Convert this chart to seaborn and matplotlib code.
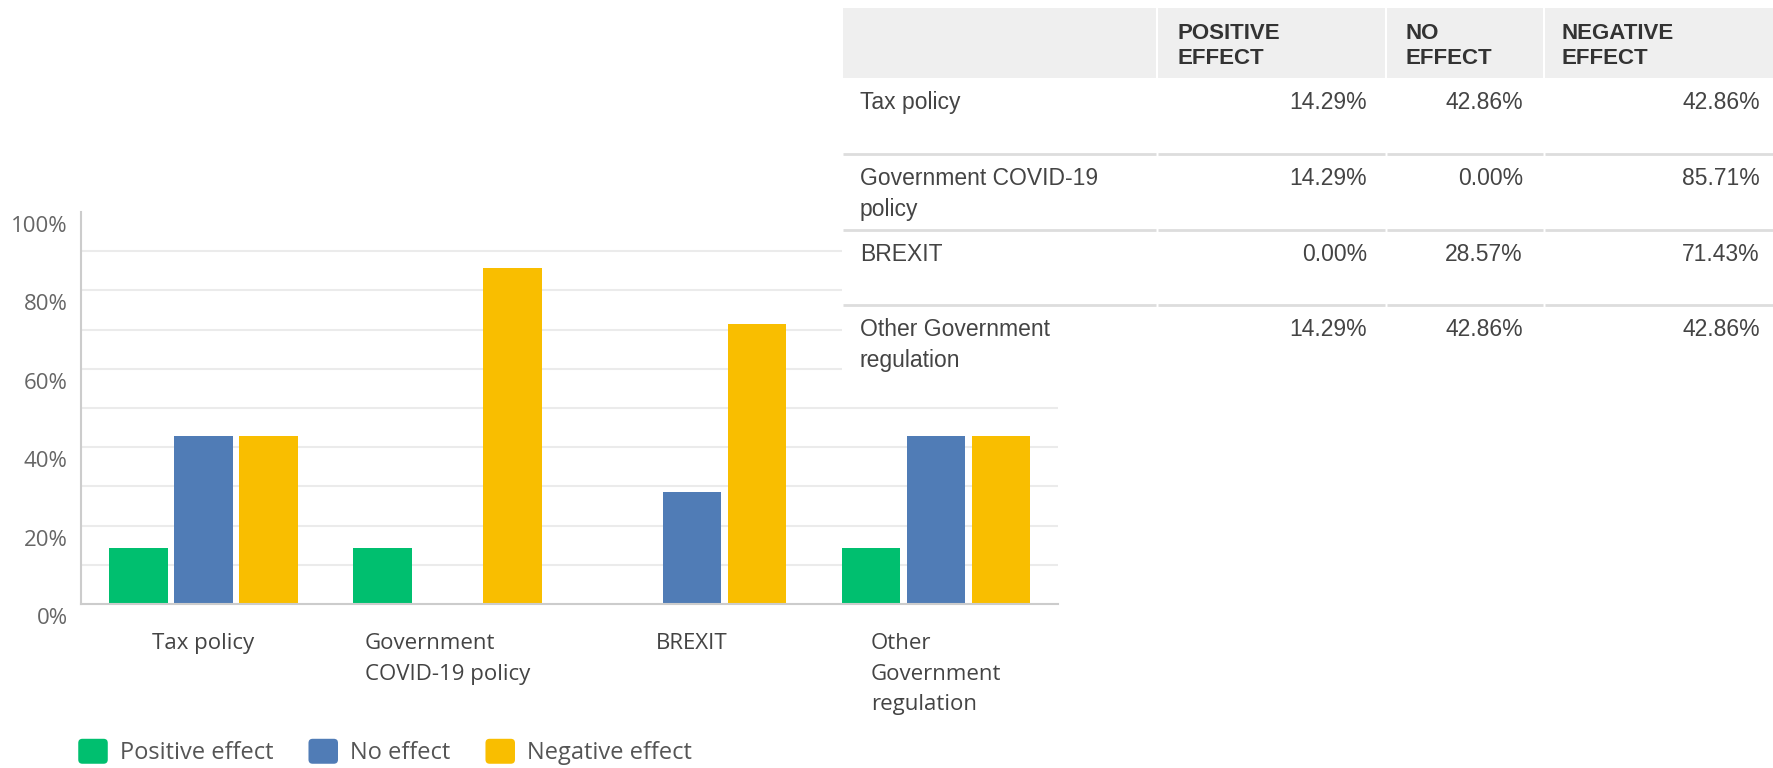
import numpy as np
import pandas as pd
import matplotlib
matplotlib.use('Agg')
import matplotlib.pyplot as plt
import matplotlib.transforms as mtransforms
from matplotlib.patches import Patch, Rectangle, FancyBboxPatch
from matplotlib.legend_handler import HandlerPatch
import seaborn as sns

# data
categories = ['Tax policy', 'Government COVID-19 policy', 'BREXIT', 'Other Government regulation']
chart_labels = ['Tax policy', 'Government\nCOVID-19 policy', 'BREXIT', 'Other\nGovernment\nregulation']
table_labels = ['Tax policy', 'Government COVID-19\npolicy', 'BREXIT', 'Other Government\nregulation']
effects = ['Positive effect', 'No effect', 'Negative effect']
table_headers = ['POSITIVE\nEFFECT', 'NO\nEFFECT', 'NEGATIVE\nEFFECT']
positive = [14.29, 14.29, 0.00, 14.29]
no_effect = [42.86, 0.00, 28.57, 42.86]
negative = [42.86, 85.71, 71.43, 42.86]
colors = ['#00BF6F', '#507CB6', '#F9BE00']

df = pd.DataFrame({
    'category': categories * 3,
    'effect': np.repeat(effects, len(categories)),
    'value': positive + no_effect + negative,
})

sns.set_style('white')
plt.rcParams['font.family'] = ['Open Sans', 'DejaVu Sans']

W, H = 1774, 768
fig = plt.figure(figsize=(W / 100, H / 100), dpi=100)

# bar chart
ax = fig.add_axes([81.5 / W, 164 / H, 976.5 / W, 392 / H])
sns.barplot(data=df, x='category', y='value', hue='effect', palette=colors,
            saturation=1, width=0.8, gap=0.1, linewidth=0, legend=False, ax=ax)
ax.set_ylim(0, 100)
ax.set_xlim(-0.5, len(categories) - 0.5)
for v in range(10, 100, 10):
    ax.axhline(v, color='#ebebeb', lw=1.5, zorder=0)
ax.set_axisbelow(True)
ax.set_yticks(range(0, 101, 20))
ax.set_yticklabels([f'{v}%' for v in range(0, 101, 20)], fontsize=16, color='#666666')
ax.set_xticks(range(len(categories)))
ax.set_xticklabels(chart_labels, fontsize=16, color='#444444', multialignment='left',
                   linespacing=1.6)
ax.tick_params(axis='y', length=0, pad=10)
ax.tick_params(axis='x', length=0, pad=21)
offset = mtransforms.ScaledTranslation(0, -0.12, fig.dpi_scale_trans)
for lab in ax.get_yticklabels():
    lab.set_transform(lab.get_transform() + offset)
ax.set_xlabel('')
ax.set_ylabel('')
for s in ['top', 'right']:
    ax.spines[s].set_visible(False)
for s in ['left', 'bottom']:
    ax.spines[s].set_color('#cccccc')
    ax.spines[s].set_linewidth(1.5)


# legend with rounded squares
class RoundHandler(HandlerPatch):
    def create_artists(self, legend, orig_handle, xdescent, ydescent, width, height,
                       fontsize, trans):
        p = FancyBboxPatch((-xdescent, -ydescent), width, height,
                           boxstyle='round,pad=0,rounding_size=3',
                           facecolor=orig_handle.get_facecolor(), edgecolor='none',
                           transform=trans)
        return [p]


handles = [Patch(facecolor=c, edgecolor='none') for c in colors]
fig.legend(handles, effects, loc='center left', bbox_to_anchor=(57 / W, 16 / H),
           ncol=3, frameon=False, fontsize=17, handlelength=1.25, handleheight=1.25,
           handletextpad=0.5, columnspacing=1.5, labelcolor='#555555',
           handler_map={Patch: RoundHandler()})

# table overlay
x0, x1, y0, y1 = 842, 1774, 8, 381
tax = fig.add_axes([x0 / W, 1 - y1 / H, (x1 - x0) / W, (y1 - y0) / H])
tax.set_xlim(x0, x1)
tax.set_ylim(y1, y0)
tax.axis('off')
tax.add_patch(Rectangle((x0, y0), x1 - x0, y1 - y0, facecolor='white', edgecolor='none'))
col_edges = [842, 1157, 1386, 1544, 1774]
for a, b in zip(col_edges[:-1], col_edges[1:]):
    tax.add_patch(Rectangle((a + 1, 8), b - a - 2, 70, facecolor='#efefef', edgecolor='none'))
tfont = ['Liberation Sans', 'DejaVu Sans']
header_x = [1178, 1406, 1562]
for hx, txt in zip(header_x, table_headers):
    tax.text(hx, 46, txt, ha='left', va='center', fontsize=16, fontweight='bold',
             color='#333333', family=tfont, linespacing=1.3)
row_tops = [78, 154, 230, 305]
for y in row_tops[1:]:
    for a, b in zip(col_edges[:-1], col_edges[1:]):
        tax.plot([a + 1, b - 1], [y, y], color='#dddddd', lw=2, solid_capstyle='butt')
value_x = [1367, 1523, 1760]
for i, top in enumerate(row_tops):
    tax.text(860, top + 13, table_labels[i], ha='left', va='top', fontsize=16.5,
             color='#444444', family=tfont, linespacing=1.45)
    for vx, series in zip(value_x, [positive, no_effect, negative]):
        tax.text(vx, top + 13, f'{series[i]:.2f}%', ha='right', va='top', fontsize=16.5,
                 color='#444444', family=tfont)

fig.savefig('out.png', dpi=100)
